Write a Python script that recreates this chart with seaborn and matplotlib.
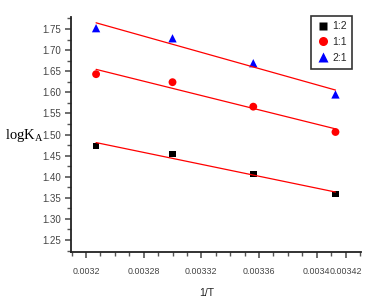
import numpy as np
import pandas as pd
import seaborn as sns
import matplotlib
matplotlib.use("Agg")
import matplotlib.pyplot as plt
from matplotlib.ticker import MultipleLocator, FixedLocator

# 1/T values (K^-1) and logK_A for the three ratios
inv_t = [0.003247, 0.003300, 0.003356, 0.003413]
logk_12 = [1.473, 1.454, 1.406, 1.359]
logk_11 = [1.643, 1.624, 1.566, 1.506]
logk_21 = [1.752, 1.728, 1.669, 1.595]
series_names = ["1:2", "1:1", "2:1"]

x_ticks = [0.00324, 0.00328, 0.00332, 0.00336, 0.0034, 0.00342]
x_ticklabels = ["0.0032", "0.00328", "0.00332", "0.00336", "0.0034", "0.00342"]
y_ticks = [1.25, 1.30, 1.35, 1.40, 1.45, 1.50, 1.55, 1.60, 1.65, 1.70, 1.75]

df = pd.DataFrame({
    "x": inv_t * 3,
    "y": logk_12 + logk_11 + logk_21,
    "ratio": [n for n in series_names for _ in inv_t],
})

sns.set_style("white")
plt.rcParams['font.family'] = ['Liberation Sans', 'DejaVu Sans']
plt.rcParams['mathtext.fontset'] = 'custom'
plt.rcParams['mathtext.rm'] = 'Liberation Serif'
plt.rcParams['mathtext.it'] = 'Liberation Serif'

fig = plt.figure(figsize=(3.8, 3.04), dpi=100)
ax = fig.add_axes([0.1868, 0.171, 0.7632, 0.773])

for name in series_names:
    sns.regplot(data=df[df["ratio"] == name], x="x", y="y", ci=None, scatter=False,
                color="red", line_kws={"lw": 0.9}, ax=ax)

sns.scatterplot(data=df, x="x", y="y", hue="ratio", style="ratio", size="ratio",
                palette={"1:2": "black", "1:1": "red", "2:1": "blue"},
                markers={"1:2": "s", "1:1": "o", "2:1": "^"},
                sizes={"1:2": 22, "1:1": 32, "2:1": 36},
                edgecolor="none", ax=ax)

ax.set_xlim(0.0032296, 0.0034307)
ax.set_ylim(1.2216, 1.7784)
ax.xaxis.set_major_locator(FixedLocator(x_ticks))
ax.set_xticklabels(x_ticklabels)
ax.xaxis.set_minor_locator(MultipleLocator(0.00001))
ax.yaxis.set_major_locator(FixedLocator(y_ticks))
ax.set_yticklabels([f"{v:.2f}" for v in y_ticks])
ax.yaxis.set_minor_locator(MultipleLocator(0.025))

for s in ["top", "right"]:
    ax.spines[s].set_visible(False)
for s in ["left", "bottom"]:
    ax.spines[s].set_color("#222222")
    ax.spines[s].set_linewidth(1.3)

ax.tick_params(which="both", direction="out", colors="#555555", labelsize=7,
               labelcolor="#444444")
ax.tick_params(which="major", length=4, width=1.2)
ax.tick_params(which="minor", length=3, width=1.0)
ax.tick_params(axis="x", which="both", bottom=True, pad=7, labelsize=6.4)
ax.tick_params(axis="y", which="both", left=True, pad=3)

ax.set_xlabel("1/T", fontsize=7.5, color="#222222")
ax.xaxis.set_label_coords(0.469, -0.155)
ax.set_ylabel(r"$\mathrm{logK}_{\mathrm{A}}$", fontsize=10.5, rotation=0, color="black")
ax.yaxis.set_label_coords(-0.16, 0.46)

leg = ax.legend(loc="upper right", bbox_to_anchor=(0.97, 1.006), fontsize=7.5,
                frameon=True, fancybox=False, handletextpad=0.2, borderpad=0.55,
                labelspacing=0.55, handlelength=1.3, markerscale=1.15, borderaxespad=0)
leg.get_frame().set_edgecolor("black")
leg.get_frame().set_linewidth(1.2)

fig.savefig("out.png", dpi=100)
